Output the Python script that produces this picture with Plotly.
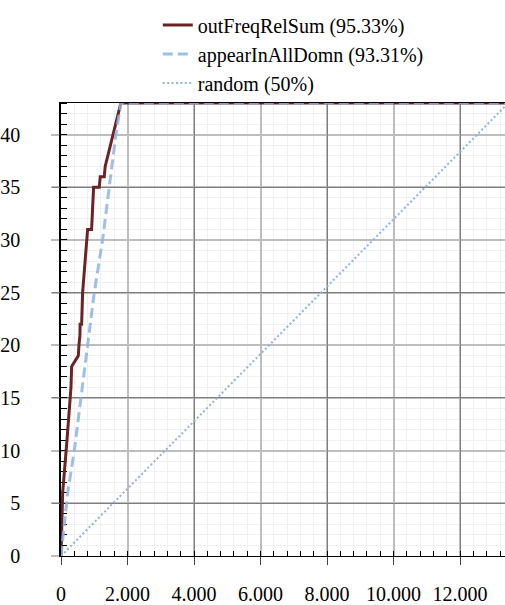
import plotly.graph_objects as go

# ---- data ----
N_TOTAL = 13450
red_name = "outFreqRelSum (95.33%)"
red_x = [0, 50, 180, 300, 320, 520, 540, 570, 575, 620, 650, 700, 770, 800, 920, 950, 980, 1150, 1180, 1300, 1330, 1800, N_TOTAL]
red_y = [0, 6, 11, 16, 18, 19, 20, 21, 22, 22, 25, 27, 29, 31, 31, 33, 35, 35, 36, 36, 37, 43, 43]

blue_name = "appearInAllDomn (93.31%)"
blue_x = [0, 200, 400, 650, 800, 1000, 1250, 1450, 1650, 1800, N_TOTAL]
blue_y = [0, 6, 10, 16, 20, 25, 30, 35, 40, 43, 43]

rand_name = "random (50%)"
rand_x = [0, N_TOTAL]
rand_y = [0, 43]

x_range = [0, 13350]
y_range = [0, 43]

# ---- styles ----
FONT = "Liberation Serif"
RED = "#6b2323"
BLUE = "#8fb4e3"
MINOR_GRID = "#f0f0f0"
MID_GRID = "#bdbdbd"
DARK_GRID = "#7d7d7d"

fig = go.Figure()
fig.add_trace(go.Scatter(x=red_x, y=red_y, mode="lines", name=red_name,
                         line=dict(color=RED, width=3)))
fig.add_trace(go.Scatter(x=blue_x, y=blue_y, mode="lines", name=blue_name,
                         opacity=0.85,
                         line=dict(color=BLUE, width=3, dash="10px,5px")))
fig.add_trace(go.Scatter(x=rand_x, y=rand_y, mode="lines", name=rand_name,
                         xaxis="x2", yaxis="y2",
                         line=dict(color=BLUE, width=2, dash="2px,2.4px")))

fig.update_layout(
    width=505, height=605,
    margin=dict(l=60, r=0, t=103, b=42),
    paper_bgcolor="white", plot_bgcolor="white",
    separators=",.",
    font=dict(family=FONT, size=20, color="black"),
    showlegend=True,
    legend=dict(x=0.218, y=1.215, xanchor="left", yanchor="top",
                bgcolor="rgba(0,0,0,0)", font=dict(family=FONT, size=20),
                tracegroupgap=0),
    xaxis=dict(range=x_range, tick0=0, dtick=2000, tickformat=",d",
               showgrid=True, gridcolor=MID_GRID, gridwidth=2,
               ticks="outside", ticklen=8, tickcolor="#444", tickwidth=1.3,
               ticklabelstandoff=12,
               tickfont=dict(family=FONT, size=20),
               showline=True, linecolor="black", linewidth=1.3, mirror=True,
               zeroline=False, layer="below traces",
               minor=dict(dtick=400, ticks="inside", ticklen=5, tickcolor="black",
                          tickwidth=1, showgrid=True, gridcolor=MINOR_GRID, gridwidth=1)),
    yaxis=dict(range=y_range, tick0=0, dtick=5,
               showgrid=True, gridcolor=MID_GRID, gridwidth=2,
               ticks="outside", ticklen=8, tickcolor=MID_GRID, tickwidth=2,
               ticklabelstandoff=27,
               tickfont=dict(family=FONT, size=20),
               showline=True, linecolor="black", linewidth=1.5, mirror=False,
               zeroline=False, layer="below traces",
               minor=dict(dtick=1, ticks="inside", ticklen=6, tickcolor="black",
                          tickwidth=1, showgrid=True, gridcolor=MINOR_GRID, gridwidth=1)),
    xaxis2=dict(range=x_range, overlaying="x", anchor="y2", side="bottom",
                tick0=0, dtick=4000, showticklabels=False,
                showgrid=True, gridcolor=DARK_GRID, gridwidth=1.3,
                ticks="outside", ticklen=8, tickcolor="#444", tickwidth=1.3,
                showline=False, zeroline=False, layer="below traces"),
    yaxis2=dict(range=y_range, overlaying="y", anchor="x2", side="left",
                tick0=5, dtick=10, showticklabels=False,
                showgrid=True, gridcolor=DARK_GRID, gridwidth=1.3,
                ticks="outside", ticklen=8, tickcolor=DARK_GRID, tickwidth=1.3,
                showline=False, zeroline=False, layer="below traces"),
)

fig.write_html("out.html")
